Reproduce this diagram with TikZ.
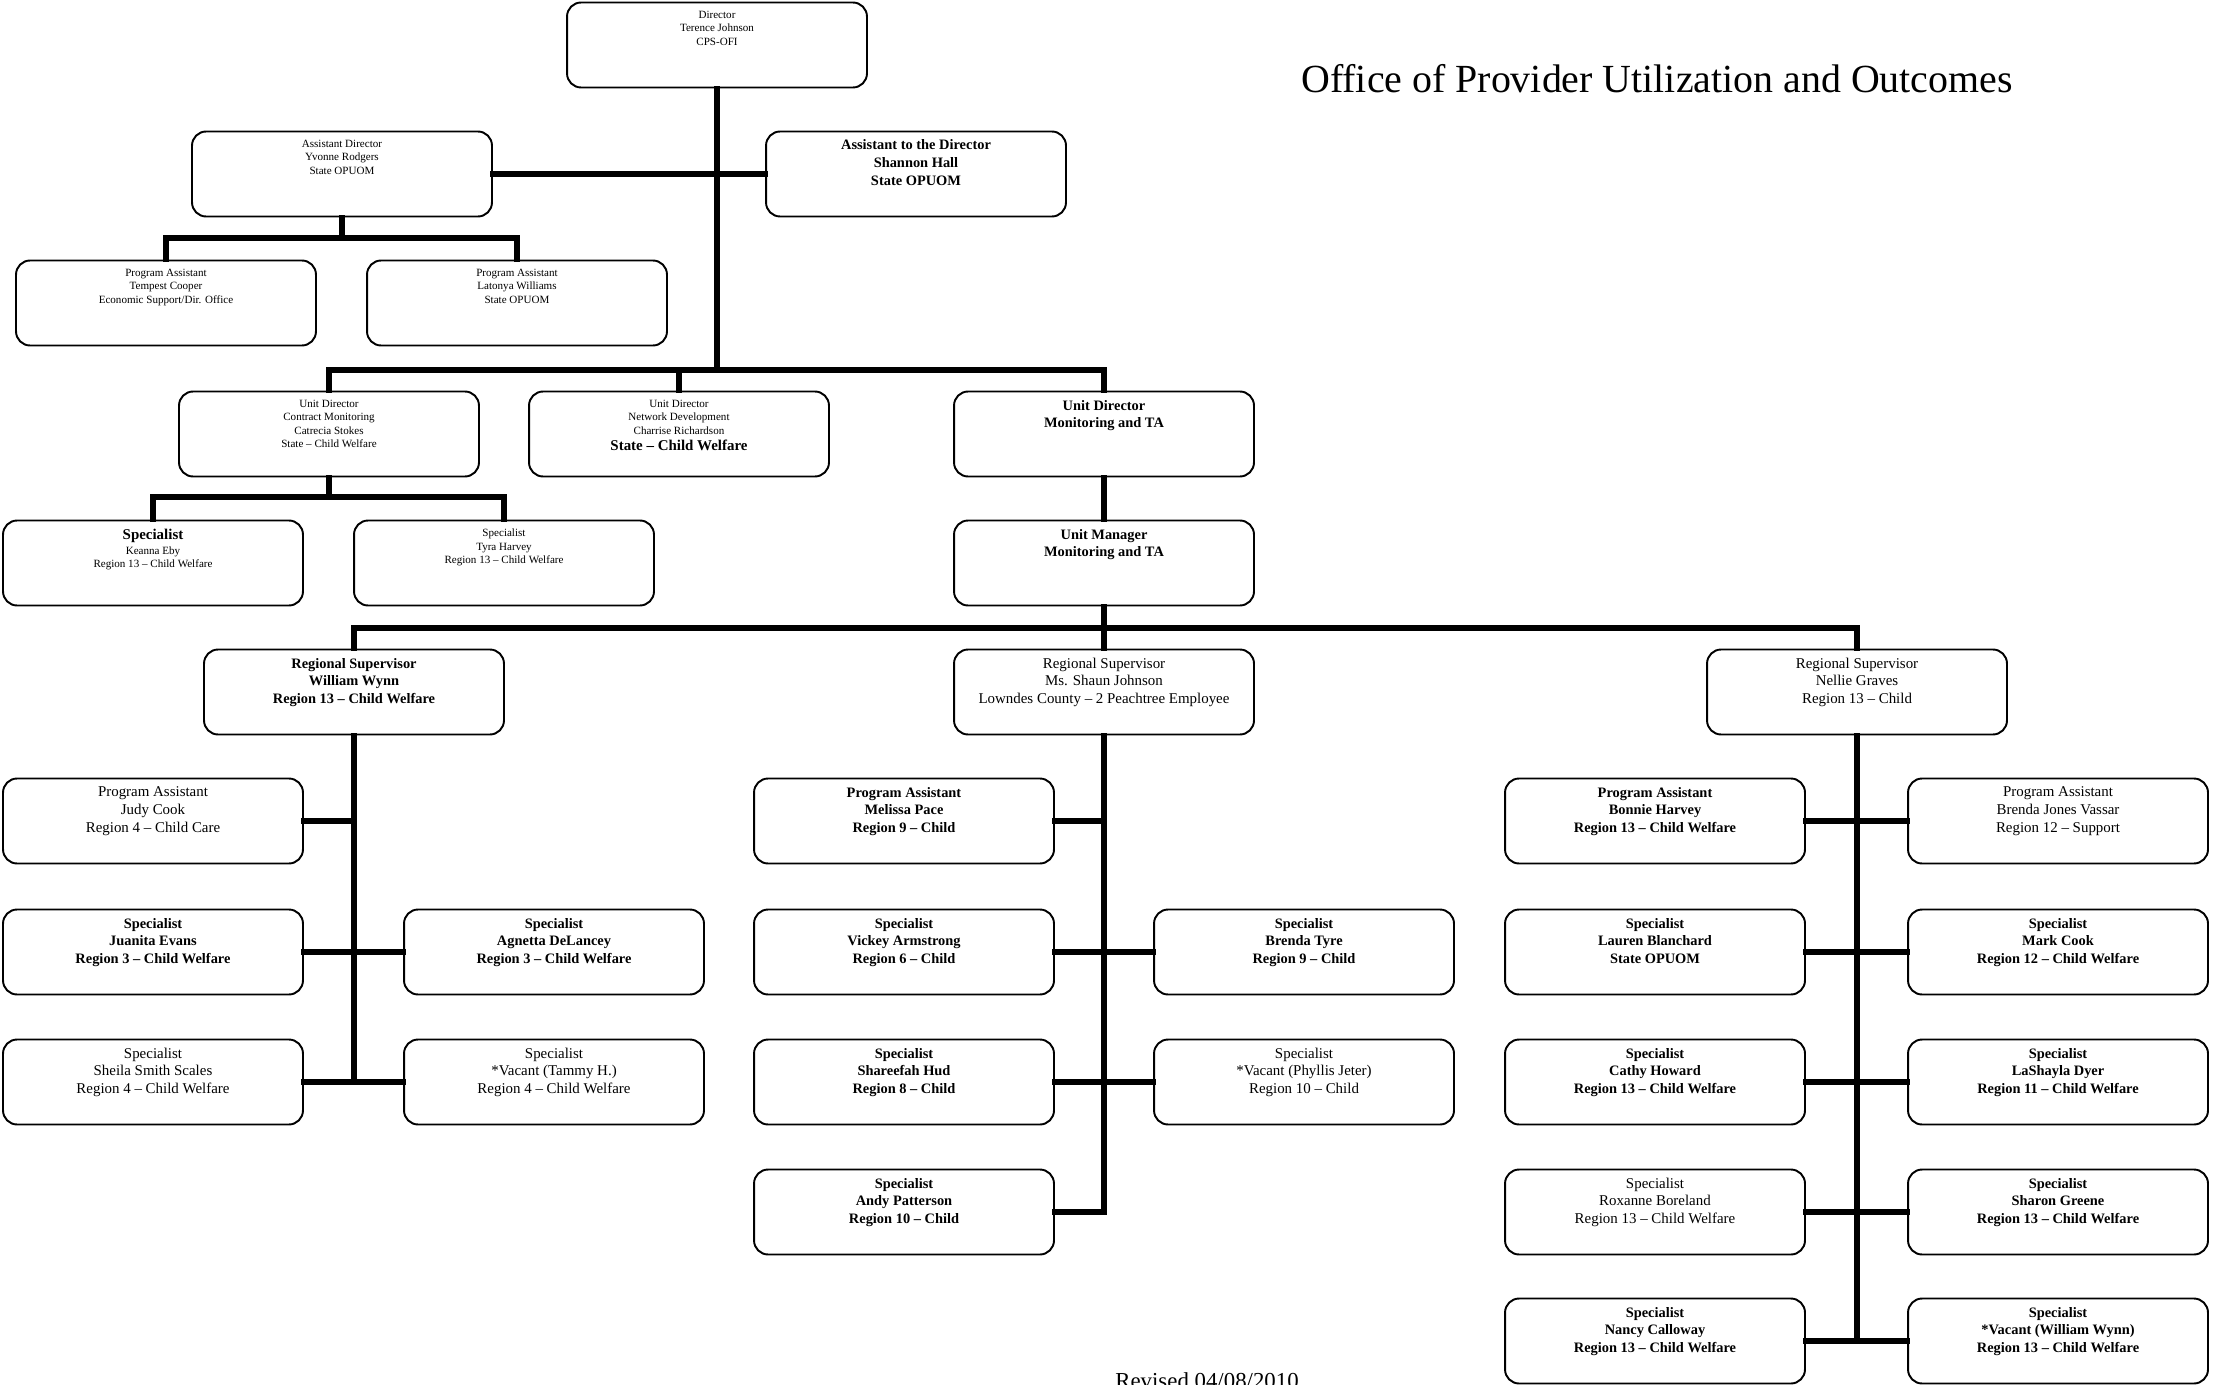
\documentclass[tikz,border=0pt]{standalone}
\usepackage{fontspec}
\setmainfont{Liberation Serif}

% text block sitting at the top of each box
\newcommand{\boxlines}[1]{\parbox[t][1.36cm][t]{5.8cm}{\centering #1}}

\tikzset{
  orgbox/.style={draw, line width=1.1pt, rounded corners=8pt, minimum width=6cm, minimum height=1.7cm, inner sep=0pt, fill=white},
  plainbox/.style={orgbox, font=\fontsize{8.5}{10}\selectfont},
  heavybox/.style={orgbox, font=\fontsize{8.2}{10}\selectfont\bfseries},
  smallbox/.style={orgbox, font=\fontsize{6.3}{7.6}\selectfont},
  link/.style={line width=3pt, line cap=rect}
}

\begin{document}
\begin{tikzpicture}[x=0.02cm, y=-0.02cm]
    \useasboundingbox (0,0) rectangle (2213,1385);
    % Title
    \node[font=\fontsize{22.7}{27}\selectfont] (title) at (1657,79) {Office of Provider Utilization and Outcomes};
    \node[anchor=north, inner sep=0pt, font=\fontsize{13}{15}\selectfont] (rev) at (1207,1372) {Revised 04/08/2010};
    % Top of the office
    \node[smallbox] (dir) at (717,45) {\boxlines{Director\\ Terence Johnson\\ CPS-OFI}};
    \node[smallbox] (asstdir) at (342,174) {\boxlines{Assistant Director\\ Yvonne Rodgers\\ State OPUOM}};
    \node[heavybox] (asstto) at (916,174) {\boxlines{Assistant to the Director\\ Shannon Hall\\ State OPUOM}};
    \node[smallbox] (pa1) at (166,303) {\boxlines{Program Assistant\\ Tempest Cooper\\ Economic Support/Dir. Office}};
    \node[smallbox] (pa2) at (517,303) {\boxlines{Program Assistant\\ Latonya Williams\\ State OPUOM}};
    % Unit directors
    \node[smallbox] (udcm) at (329,434) {\boxlines{Unit Director\\ Contract Monitoring\\ Catrecia Stokes\\ State -- Child Welfare}};
    \node[smallbox] (udnd) at (679,434) {\boxlines{Unit Director\\ Network Development\\ Charrise Richardson\\[1.5pt] {\fontsize{8.5}{10}\selectfont\bfseries State -- Child Welfare}}};
    \node[heavybox] (udmt) at (1104,434) {\boxlines{Unit Director\\ Monitoring and TA}};
    \node[smallbox] (spk) at (153,563) {\boxlines{{\fontsize{8.5}{10}\selectfont\bfseries Specialist}\\[1pt] Keanna Eby\\ Region 13 -- Child Welfare}};
    \node[smallbox] (spt) at (504,563) {\boxlines{Specialist\\ Tyra Harvey\\ Region 13 -- Child Welfare}};
    \node[heavybox] (um) at (1104,563) {\boxlines{Unit Manager\\ Monitoring and TA}};
    % Regional supervisors
    \node[heavybox] (rsw) at (354,692) {\boxlines{Regional Supervisor\\ William Wynn\\ Region 13 -- Child Welfare}};
    \node[plainbox] (rsj) at (1104,692) {\boxlines{Regional Supervisor\\ Ms. Shaun Johnson\\ Lowndes County -- 2 Peachtree Employee}};
    \node[plainbox] (rsg) at (1857,692) {\boxlines{Regional Supervisor\\ Nellie Graves\\ Region 13 -- Child}};
    % Wynn group
    \node[plainbox] (w1) at (153,821) {\boxlines{Program Assistant\\ Judy Cook\\ Region 4 -- Child Care}};
    \node[heavybox] (w2) at (153,952) {\boxlines{Specialist\\ Juanita Evans\\ Region 3 -- Child Welfare}};
    \node[heavybox] (w3) at (554,952) {\boxlines{Specialist\\ Agnetta DeLancey\\ Region 3 -- Child Welfare}};
    \node[plainbox] (w4) at (153,1082) {\boxlines{Specialist\\ Sheila Smith Scales\\ Region 4 -- Child Welfare}};
    \node[plainbox] (w5) at (554,1082) {\boxlines{Specialist\\ {*}Vacant (Tammy H.)\\ Region 4 -- Child Welfare}};
    % Johnson group
    \node[heavybox] (j1) at (904,821) {\boxlines{Program Assistant\\ Melissa Pace\\ Region 9 -- Child}};
    \node[heavybox] (j2) at (904,952) {\boxlines{Specialist\\ Vickey Armstrong\\ Region 6 -- Child}};
    \node[heavybox] (j3) at (1304,952) {\boxlines{Specialist\\ Brenda Tyre\\ Region 9 -- Child}};
    \node[heavybox] (j4) at (904,1082) {\boxlines{Specialist\\ Shareefah Hud\\ Region 8 -- Child}};
    \node[plainbox] (j5) at (1304,1082) {\boxlines{Specialist\\ {*}Vacant (Phyllis Jeter)\\ Region 10 -- Child}};
    \node[heavybox] (j6) at (904,1212) {\boxlines{Specialist\\ Andy Patterson\\ Region 10 -- Child}};
    % Graves group
    \node[heavybox] (g1) at (1655,821) {\boxlines{Program Assistant\\ Bonnie Harvey\\ Region 13 -- Child Welfare}};
    \node[plainbox] (g2) at (2058,821) {\boxlines{Program Assistant\\ Brenda Jones Vassar\\ Region 12 -- Support}};
    \node[heavybox] (g3) at (1655,952) {\boxlines{Specialist\\ Lauren Blanchard\\ State OPUOM}};
    \node[heavybox] (g4) at (2058,952) {\boxlines{Specialist\\ Mark Cook\\ Region 12 -- Child Welfare}};
    \node[heavybox] (g5) at (1655,1082) {\boxlines{Specialist\\ Cathy Howard\\ Region 13 -- Child Welfare}};
    \node[heavybox] (g6) at (2058,1082) {\boxlines{Specialist\\ LaShayla Dyer\\ Region 11 -- Child Welfare}};
    \node[plainbox] (g7) at (1655,1212) {\boxlines{Specialist\\ Roxanne Boreland\\ Region 13 -- Child Welfare}};
    \node[heavybox] (g8) at (2058,1212) {\boxlines{Specialist\\ Sharon Greene\\ Region 13 -- Child Welfare}};
    \node[heavybox] (g9) at (1655,1341) {\boxlines{Specialist\\ Nancy Calloway\\ Region 13 -- Child Welfare}};
    \node[heavybox] (g10) at (2058,1341) {\boxlines{Specialist\\ {*}Vacant (William Wynn)\\ Region 13 -- Child Welfare}};
    % Bus points
    \coordinate (topbus) at (717,370);
    \coordinate (asstbus) at (342,238);
    \coordinate (cmbus) at (329,497);
    \coordinate (mgrbus) at (1104,628);
    \coordinate (wend) at (354,1082);
    \coordinate (jend) at (1104,1212);
    \coordinate (gend) at (1857,1341);
    % Lines
    \draw[link] (dir.south) -- (topbus);
    \draw[link] (asstdir.east) -- (asstto.west);
    \draw[link] (udcm.north) |- (topbus) -| (udmt.north);
    \draw[link] (udnd.north) -- (udnd.north |- topbus);
    \draw[link] (asstdir.south) -- (asstbus);
    \draw[link] (pa1.north) |- (asstbus) -| (pa2.north);
    \draw[link] (udcm.south) -- (cmbus);
    \draw[link] (spk.north) |- (cmbus) -| (spt.north);
    \draw[link] (udmt.south) -- (um.north);
    \draw[link] (um.south) -- (mgrbus);
    \draw[link] (rsw.north) |- (mgrbus) -| (rsg.north);
    \draw[link] (rsj.north) -- (mgrbus);
    % Wynn lines
    \draw[link] (rsw.south) -- (wend);
    \draw[link] (w1.east) -- (w1.east -| wend);
    \draw[link] (w2.east) -- (w3.west);
    \draw[link] (w4.east) -- (w5.west);
    % Johnson lines
    \draw[link] (rsj.south) -- (jend);
    \draw[link] (j1.east) -- (j1.east -| jend);
    \draw[link] (j2.east) -- (j3.west);
    \draw[link] (j4.east) -- (j5.west);
    \draw[link] (j6.east) -- (jend);
    % Graves lines
    \draw[link] (rsg.south) -- (gend);
    \draw[link] (g1.east) -- (g2.west);
    \draw[link] (g3.east) -- (g4.west);
    \draw[link] (g5.east) -- (g6.west);
    \draw[link] (g7.east) -- (g8.west);
    \draw[link] (g9.east) -- (g10.west);
\end{tikzpicture}
\end{document}
